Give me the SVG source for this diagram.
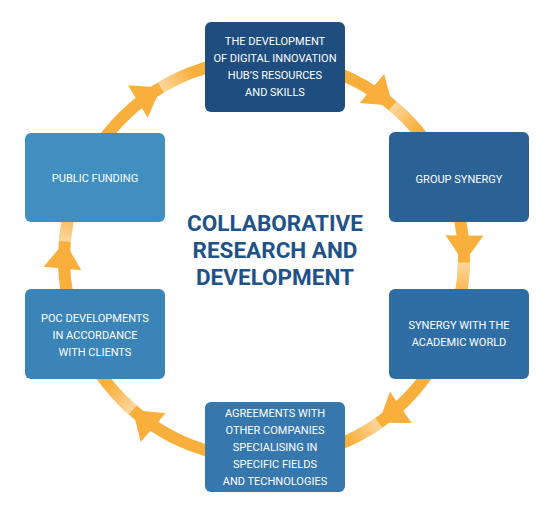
<svg xmlns="http://www.w3.org/2000/svg" width="550" height="512" viewBox="0 0 550 512">
<style>
.box{stroke:none}
.t{font-family:Roboto,"Liberation Sans",sans-serif;font-size:11px;fill:#ffffff;text-anchor:middle}
.title{font-family:Roboto,"Liberation Sans",sans-serif;font-size:22.5px;font-weight:bold;fill:#1F5289;text-anchor:middle}
.ring{fill:none;stroke:#F9AF3C;stroke-width:12}
.hl{fill:none;stroke-width:12}
.ah{fill:#F9AF3C}
</style>
<defs>
<linearGradient id="g1" gradientUnits="userSpaceOnUse" x1="161" y1="87.6" x2="192.3" y2="72.3"><stop offset="0" stop-color="#fff" stop-opacity="0.5"/><stop offset="1" stop-color="#fff" stop-opacity="0"/></linearGradient>
<linearGradient id="g2" gradientUnits="userSpaceOnUse" x1="392.6" y1="105.8" x2="417.2" y2="130.4"><stop offset="0" stop-color="#fff" stop-opacity="0.5"/><stop offset="1" stop-color="#fff" stop-opacity="0"/></linearGradient>
<linearGradient id="g3" gradientUnits="userSpaceOnUse" x1="464" y1="262.5" x2="460.3" y2="297.2"><stop offset="0" stop-color="#fff" stop-opacity="0.5"/><stop offset="1" stop-color="#fff" stop-opacity="0"/></linearGradient>
<linearGradient id="g4" gradientUnits="userSpaceOnUse" x1="378.7" y1="422.8" x2="348.5" y2="440.3"><stop offset="0" stop-color="#fff" stop-opacity="0.5"/><stop offset="1" stop-color="#fff" stop-opacity="0"/></linearGradient>
<linearGradient id="g5" gradientUnits="userSpaceOnUse" x1="132.8" y1="409.9" x2="108.6" y2="384.9"><stop offset="0" stop-color="#fff" stop-opacity="0.5"/><stop offset="1" stop-color="#fff" stop-opacity="0"/></linearGradient>
<linearGradient id="g6" gradientUnits="userSpaceOnUse" x1="64.8" y1="241.6" x2="70.8" y2="207.2"><stop offset="0" stop-color="#fff" stop-opacity="0.5"/><stop offset="1" stop-color="#fff" stop-opacity="0"/></linearGradient>
<polygon id="head" points="0,0 -27,-19 -27,19"/>
</defs>
<rect width="550" height="512" fill="#ffffff"/>
<g id="connectors">
<circle class="ring" cx="264" cy="259" r="200"/>
<path class="hl" stroke="url(#g1)" d="M161,87.6 A200,200 0 0 1 192.3,72.3"/>
<path class="hl" stroke="url(#g2)" d="M392.6,105.8 A200,200 0 0 1 417.2,130.4"/>
<path class="hl" stroke="url(#g3)" d="M464,262.5 A200,200 0 0 1 460.3,297.2"/>
<path class="hl" stroke="url(#g4)" d="M378.7,422.8 A200,200 0 0 1 348.5,440.3"/>
<path class="hl" stroke="url(#g5)" d="M132.8,409.9 A200,200 0 0 1 108.6,384.9"/>
<path class="hl" stroke="url(#g6)" d="M64.8,241.6 A200,200 0 0 1 70.8,207.2"/>
<use href="#head" class="ah" transform="translate(161,87.6) rotate(329)"/>
<use href="#head" class="ah" transform="translate(392.6,105.8) rotate(40)"/>
<use href="#head" class="ah" transform="translate(464,262.5) rotate(91)"/>
<use href="#head" class="ah" transform="translate(378.7,422.8) rotate(145)"/>
<use href="#head" class="ah" transform="translate(132.8,409.9) rotate(221)"/>
<use href="#head" class="ah" transform="translate(64.8,241.6) rotate(275)"/>
</g>
<g id="node-digital-hub">
<rect class="box" x="205" y="22" width="140" height="90" rx="6" fill="#1E4D7F"/>
<text class="t" x="275" y="45">THE DEVELOPMENT</text>
<text class="t" x="275" y="62">OF DIGITAL INNOVATION</text>
<text class="t" x="275" y="79">HUB’S RESOURCES</text>
<text class="t" x="275" y="96">AND SKILLS</text>
</g>
<g id="node-group-synergy">
<rect class="box" x="389" y="132" width="140" height="90" rx="6" fill="#2A6295"/>
<text class="t" x="459" y="183">GROUP SYNERGY</text>
</g>
<g id="node-academic">
<rect class="box" x="389" y="289" width="140" height="90" rx="6" fill="#2F6EA5"/>
<text class="t" x="459" y="329">SYNERGY WITH THE</text>
<text class="t" x="459" y="346">ACADEMIC WORLD</text>
</g>
<g id="node-agreements">
<rect class="box" x="205" y="402" width="140" height="90" rx="6" fill="#3677AE"/>
<text class="t" x="275" y="417">AGREEMENTS WITH</text>
<text class="t" x="275" y="434">OTHER COMPANIES</text>
<text class="t" x="275" y="451">SPECIALISING IN</text>
<text class="t" x="275" y="468">SPECIFIC FIELDS</text>
<text class="t" x="275" y="485">AND TECHNOLOGIES</text>
</g>
<g id="node-poc">
<rect class="box" x="25" y="289" width="140" height="90" rx="6" fill="#3A84B8"/>
<text class="t" x="95" y="322">POC DEVELOPMENTS</text>
<text class="t" x="95" y="339">IN ACCORDANCE</text>
<text class="t" x="95" y="356">WITH CLIENTS</text>
</g>
<g id="node-public-funding">
<rect class="box" x="25" y="133" width="140" height="89" rx="6" fill="#3F90C0"/>
<text class="t" x="95" y="182">PUBLIC FUNDING</text>
</g>
<g id="title">
<text class="title" x="275" y="231">COLLABORATIVE</text>
<text class="title" x="275" y="258">RESEARCH AND</text>
<text class="title" x="275" y="285">DEVELOPMENT</text>
</g>
</svg>
